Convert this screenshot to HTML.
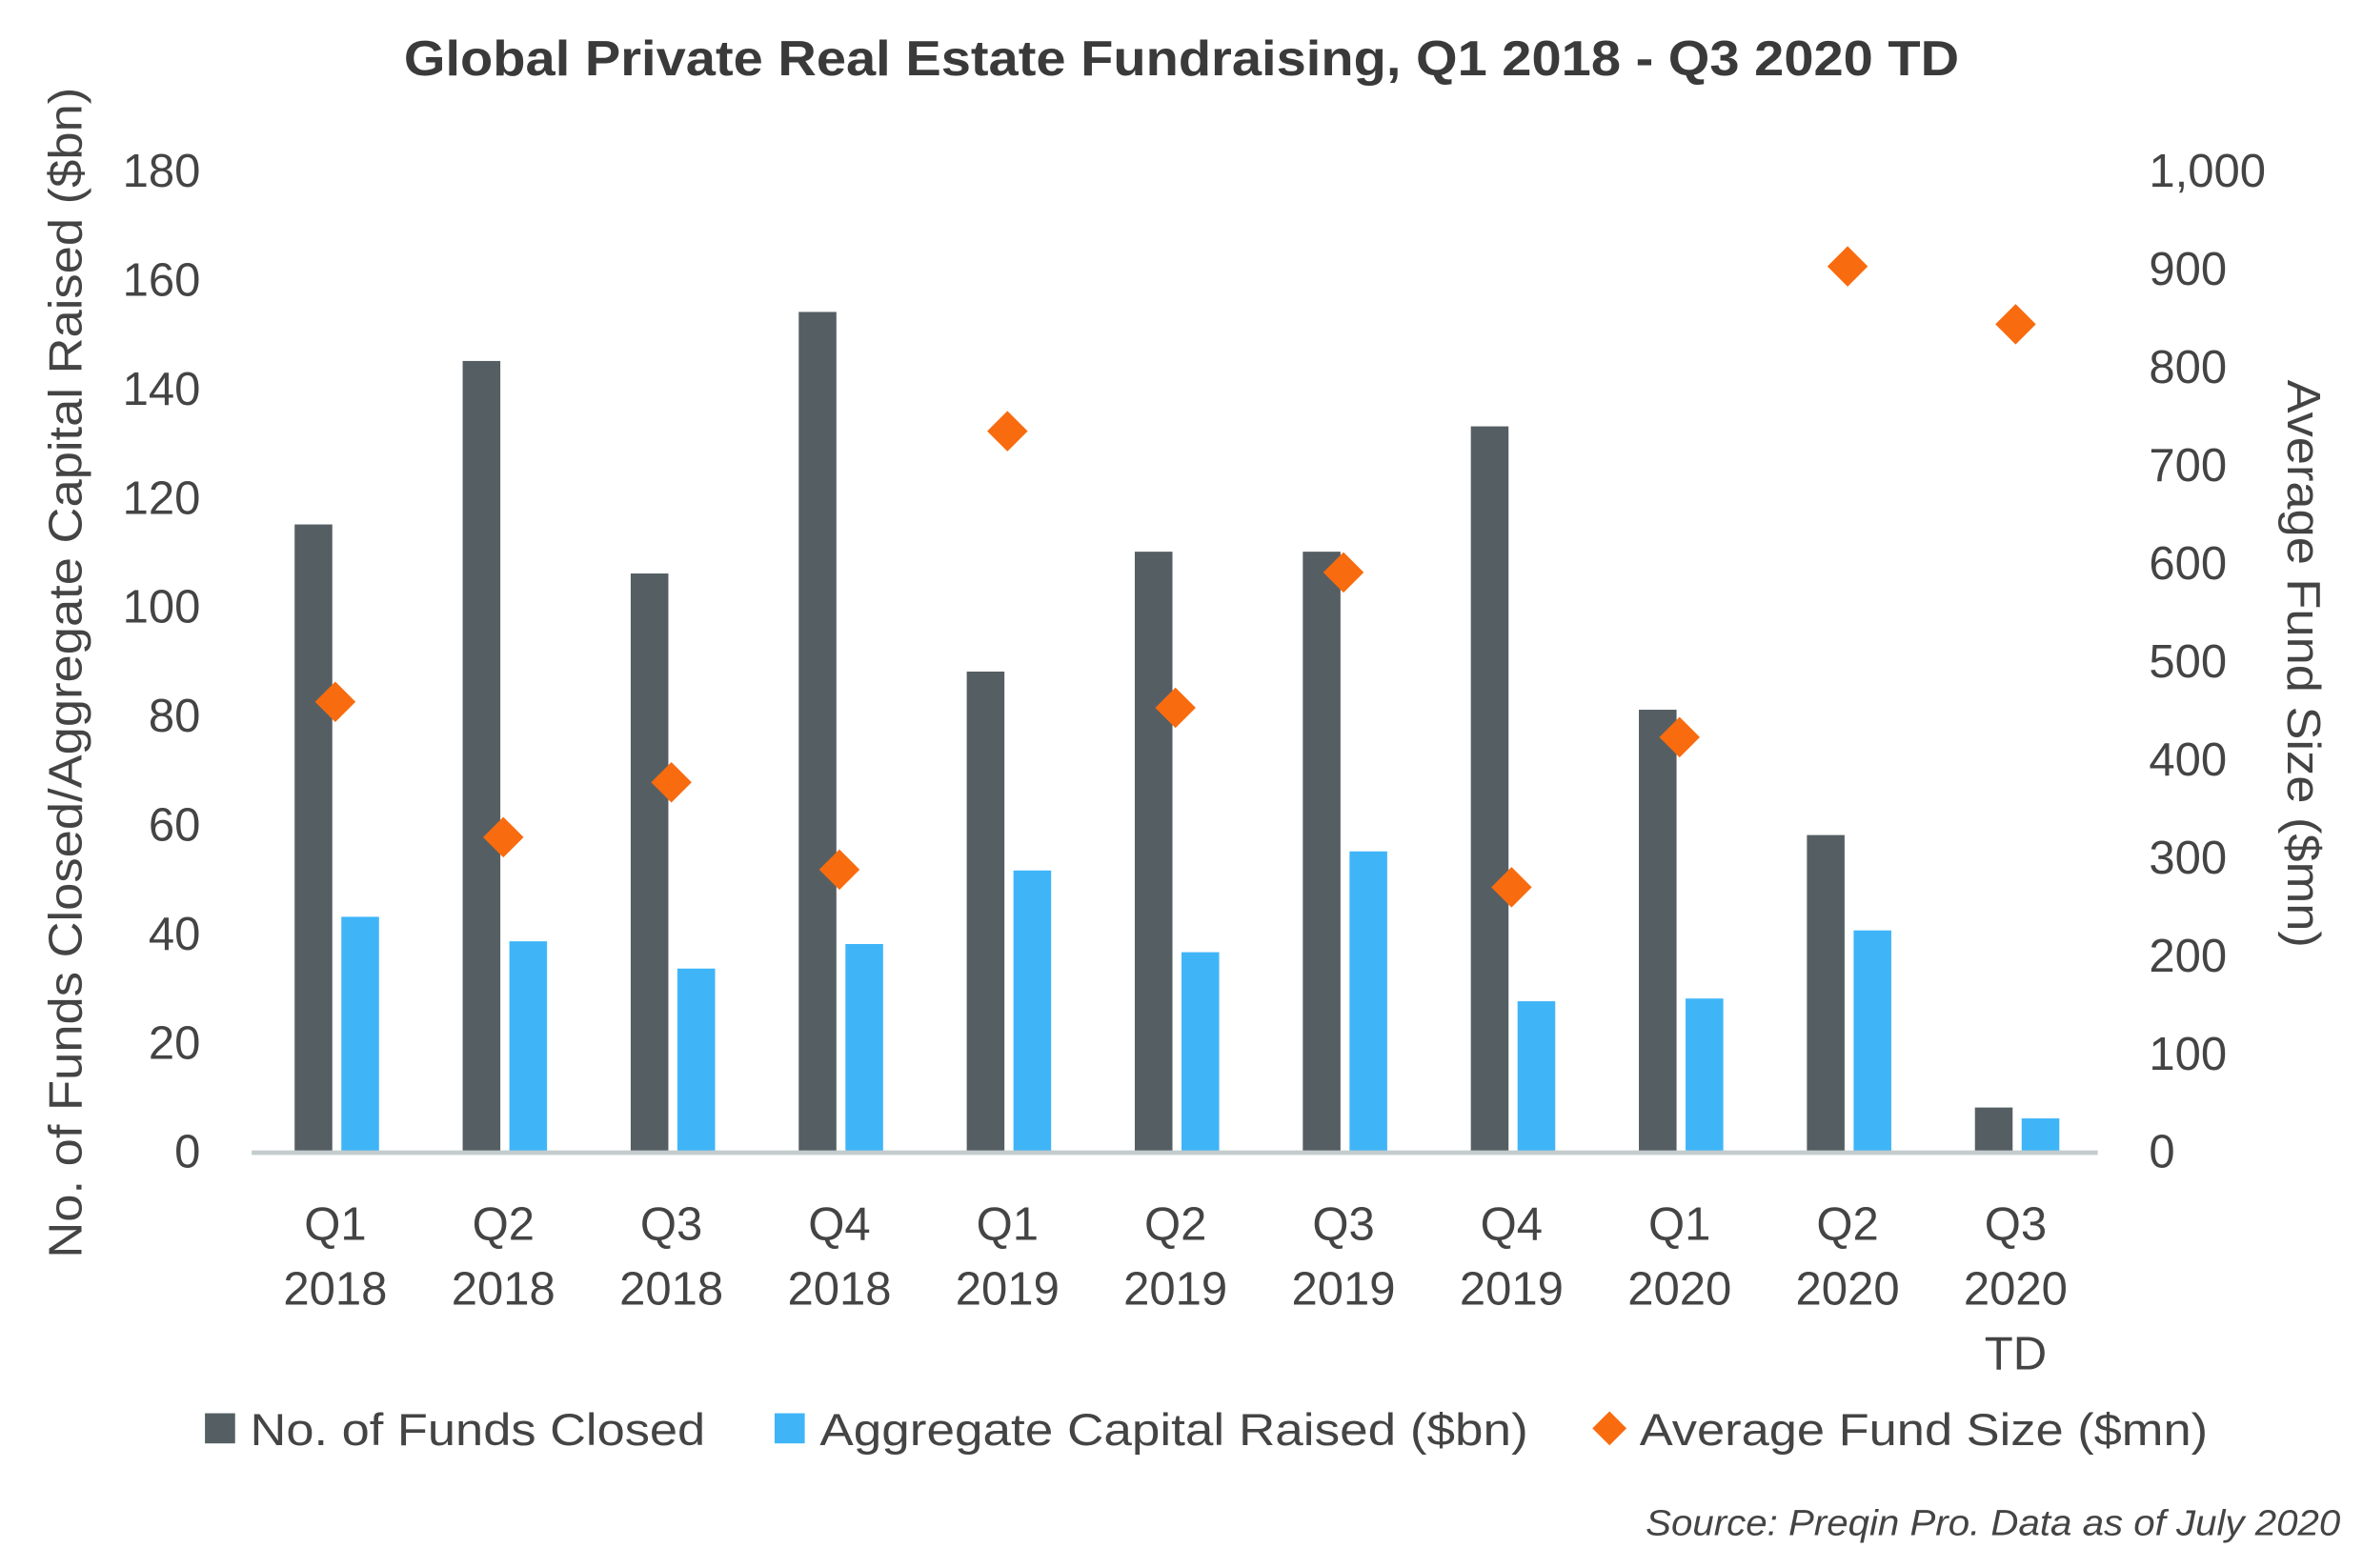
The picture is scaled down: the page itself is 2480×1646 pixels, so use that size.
<!DOCTYPE html>
<html><head><meta charset="utf-8"><style>
html,body{margin:0;padding:0;background:#fff;}
svg{display:block;font-family:"Liberation Sans",sans-serif;}
</style></head><body>
<svg id="chart" width="2480" height="1646" viewBox="0 0 1568 1040.7" xmlns="http://www.w3.org/2000/svg">
<rect width="1568" height="1041" fill="#fff"/>
<text x="268" y="50" textLength="1032" lengthAdjust="spacingAndGlyphs" font-size="33" font-weight="bold" fill="#3a3a3a">Global Private Real Estate Fundraising, Q1 2018 - Q3 2020 TD</text>
<g id="left-ticks"></g>
<g id="right-ticks"></g>
<g id="bars"></g>
<line x1="167" y1="765" x2="1392" y2="765" stroke="#c3cbcd" stroke-width="3"/>
<g id="xlabels"></g>
<text transform="translate(54,835) rotate(-90)" textLength="777" lengthAdjust="spacingAndGlyphs" font-size="31" fill="#444">No. of Funds Closed/Aggregate Capital Raised ($bn)</text>
<text transform="translate(1518,252) rotate(90)" textLength="377" lengthAdjust="spacingAndGlyphs" font-size="31" fill="#444">Average Fund Size ($mn)</text>
<g font-size="30" fill="#444">
<rect x="136" y="938" width="20" height="20" fill="#555f63"/>
<text x="166" y="959" textLength="302" lengthAdjust="spacingAndGlyphs">No. of Funds Closed</text>
<rect x="514" y="938" width="20" height="20" fill="#3fb5f8"/>
<text x="544" y="959" textLength="470" lengthAdjust="spacingAndGlyphs">Aggregate Capital Raised ($bn)</text>
<rect x="1060" y="940" width="16" height="16" fill="#f96b0f" transform="rotate(45 1068 948)"/>
<text x="1088" y="959" textLength="377" lengthAdjust="spacingAndGlyphs">Average Fund Size ($mn)</text>
</g>
<text x="1092" y="1019" textLength="461" lengthAdjust="spacingAndGlyphs" font-size="24" font-style="italic" fill="#444">Source: Preqin Pro. Data as of July 2020</text>
</svg>
<script>
const categories=[["Q1","2018"],["Q2","2018"],["Q3","2018"],["Q4","2018"],["Q1","2019"],["Q2","2019"],["Q3","2019"],["Q4","2019"],["Q1","2020"],["Q2","2020"],["Q3","2020","TD"]];
const fundsClosed=[115,145,106,154,88,110,110,133,81,58,8];
const capitalRaised=[43,38.5,33.5,38,51.5,36.5,55,27.5,28,40.5,6];
const avgFundSize=[458,320,376,287,734,452,590,269,422,902,843];
const leftTicks=[0,20,40,60,80,100,120,140,160,180];
const rightTicks=["0","100","200","300","400","500","600","700","800","900","1,000"];
const NS="http://www.w3.org/2000/svg";
const y0=764,yTop=113;
function yL(v){return y0-(v/180)*(y0-yTop);}
function yR(v){return y0-(v/1000)*(y0-yTop);}
function xC(i){return 222.5+i*111.5;}
function mk(tag,attrs,parent,txt){const e=document.createElementNS(NS,tag);for(const k in attrs)e.setAttribute(k,attrs[k]);if(txt!==undefined)e.textContent=txt;parent.appendChild(e);return e;}
const gl=document.getElementById('left-ticks'),gr=document.getElementById('right-ticks'),gb=document.getElementById('bars'),gx=document.getElementById('xlabels');
leftTicks.forEach(v=>{const t=mk('text',{x:133,y:yL(v)+11,'text-anchor':'end','font-size':31,fill:'#444'},gl,String(v));

});
rightTicks.forEach((s,i)=>{const t=mk('text',{x:1426,y:yR(i*100)+11,'font-size':31,fill:'#444'},gr,s);

});
categories.forEach((c,i)=>{const cx=xC(i);
const b1=mk('rect',{x:cx-27,y:yL(fundsClosed[i]),width:25,height:y0-yL(fundsClosed[i]),fill:'#555f63'},gb);


const b2=mk('rect',{x:cx+4,y:yL(capitalRaised[i]),width:25,height:y0-yL(capitalRaised[i]),fill:'#3fb5f8'},gb);


const yy=yR(avgFundSize[i]);
const d=mk('rect',{x:cx-9.5,y:yy-9.5,width:19,height:19,fill:'#f96b0f',transform:`rotate(45 ${cx} ${yy})`},gb);


c.forEach((s,j)=>{const t=mk('text',{x:cx,y:823+j*43,'text-anchor':'middle','font-size':31,fill:'#444'},gx,s);

});
});
</script>
</body></html>
